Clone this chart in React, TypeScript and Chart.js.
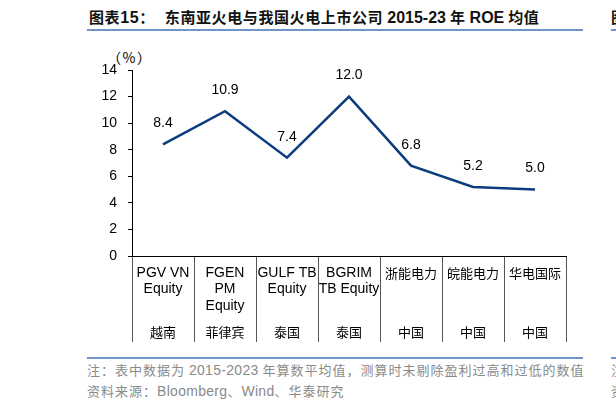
import React, { useEffect, useRef } from 'react';
import { Chart, registerables } from 'chart.js';

Chart.register(...registerables);

const companies: string[][] = [
  ['PGV VN', 'Equity'],
  ['FGEN', 'PM', 'Equity'],
  ['GULF TB', 'Equity'],
  ['BGRIM', 'TB Equity'],
  ['浙能电力'],
  ['皖能电力'],
  ['华电国际'],
];
const countries = ['越南', '菲律宾', '泰国', '泰国', '中国', '中国', '中国'];
const roe = [8.4, 10.9, 7.4, 12.0, 6.8, 5.2, 5.0];

const LATIN = '"Liberation Sans", Arial, sans-serif';
const CJK = '"Noto Sans CJK SC", "Liberation Sans", sans-serif';
const isCjk = (s: string) => /[\u4e00-\u9fff]/.test(s);

// value labels above each point
const pointLabels = {
  id: 'pointLabels',
  afterDatasetsDraw(chart: Chart) {
    const ctx = chart.ctx;
    const meta = chart.getDatasetMeta(0);
    ctx.save();
    ctx.font = `14px ${LATIN}`;
    ctx.fillStyle = '#000';
    ctx.textAlign = 'center';
    ctx.textBaseline = 'middle';
    meta.data.forEach((pt, i) => {
      ctx.fillText(roe[i].toFixed(1), pt.x, pt.y - 21);
    });
    ctx.restore();
  },
};

// company names and countries inside the table under the axis
const tableLabels = {
  id: 'tableLabels',
  afterDraw(chart: Chart) {
    const ctx = chart.ctx;
    const x = chart.scales.x;
    ctx.save();
    ctx.fillStyle = '#000';
    ctx.textAlign = 'center';
    ctx.textBaseline = 'middle';
    companies.forEach((lines, i) => {
      const cx = x.getPixelForValue(i);
      lines.forEach((line, j) => {
        ctx.font = isCjk(line) ? `13px ${CJK}` : `14px ${LATIN}`;
        ctx.fillText(line, cx, x.top + 17 + j * 16.5);
      });
      ctx.font = `13px ${CJK}`;
      ctx.fillText(countries[i], cx, x.top + 76);
    });
    ctx.restore();
  },
};

const App: React.FC = () => {
  const chartRef = useRef<HTMLCanvasElement>(null);
  const chartInstance = useRef<Chart | null>(null);

  useEffect(() => {
    if (!chartRef.current) return;
    if (chartInstance.current) chartInstance.current.destroy();

    chartInstance.current = new Chart(chartRef.current, {
      type: 'line',
      data: {
        labels: companies.map(c => c.join(' ')),
        datasets: [{
          data: roe,
          borderColor: '#0b3d7e',
          borderWidth: 2.5,
          pointRadius: 0,
          tension: 0,
          fill: false,
        }],
      },
      options: {
        responsive: false,
        animation: false,
        layout: { padding: { left: 92, right: 50, top: 30, bottom: 8 } },
        plugins: {
          legend: { display: false },
          tooltip: { enabled: false },
        },
        scales: {
          x: {
            offset: true,
            grid: {
              offset: true,
              drawOnChartArea: false,
              tickLength: 86,
              color: '#555',
            },
            border: { color: '#000', width: 1 },
            ticks: { display: false },
            afterFit: (scale: any) => { scale.height = 86; },
          },
          y: {
            min: 0,
            max: 14,
            ticks: {
              stepSize: 2,
              color: '#000',
              padding: 11,
              font: { family: LATIN, size: 14 },
            },
            grid: { drawOnChartArea: false, tickLength: 4, color: '#000' },
            border: { color: '#000', width: 1 },
            afterFit: (scale: any) => { scale.width = 40; },
          },
        },
      },
      plugins: [pointLabels, tableLabels],
    });

    return () => {
      if (chartInstance.current) {
        chartInstance.current.destroy();
        chartInstance.current = null;
      }
    };
  }, []);

  const abs = (s: React.CSSProperties): React.CSSProperties => ({ position: 'absolute', ...s });
  const latinNote: React.CSSProperties = { fontFamily: LATIN, fontSize: 14, letterSpacing: 0.3 };

  return (
    <div style={{ position: 'absolute', left: 0, top: 0, width: 616, height: 408, overflow: 'hidden', background: '#fff' }}>
      <div style={abs({ left: 89, top: 8, fontFamily: CJK, fontWeight: 'bold', fontSize: 15, lineHeight: '18px', color: '#111', whiteSpace: 'nowrap', letterSpacing: 0.6 })}>
        图表<span style={{ fontFamily: LATIN, fontSize: 16 }}>15</span>：
        <span style={{ marginLeft: 10 }}>东南亚火电与我国火电上市公司 </span>
        <span style={{ fontFamily: LATIN, fontSize: 16, letterSpacing: 0 }}>2015-23</span> 年 <span style={{ fontFamily: LATIN, fontSize: 16, letterSpacing: 0 }}>ROE</span> 均值
      </div>
      <div style={abs({ left: 87, top: 29, width: 496, height: 2, background: '#6f95c7' })} />
      <div style={abs({ left: 611, top: 8, fontFamily: CJK, fontWeight: 'bold', fontSize: 15, lineHeight: '18px', color: '#111' })}>图</div>
      <div style={abs({ left: 611, top: 29, width: 10, height: 2, background: '#6f95c7' })} />

      <div style={abs({ left: 107, top: 48, fontFamily: CJK, fontSize: 14, lineHeight: '18px', color: '#000', letterSpacing: 1.5 })}>（%）</div>

      <canvas ref={chartRef} width={616} height={310} style={abs({ left: 0, top: 40 })} />

      <div style={abs({ left: 87, top: 357, width: 496, height: 2, background: '#6f95c7' })} />
      <div style={abs({ left: 611, top: 357, width: 10, height: 2, background: '#6f95c7' })} />
      <div style={abs({ left: 87, top: 361, fontFamily: CJK, fontSize: 13, lineHeight: '18px', color: '#8a8a8a', whiteSpace: 'nowrap', letterSpacing: 1 })}>
        注：表中数据为 <span style={latinNote}>2015-2023</span> 年算数平均值，测算时未剔除盈利过高和过低的数值
      </div>
      <div style={abs({ left: 87, top: 382, fontFamily: CJK, fontSize: 13, lineHeight: '18px', color: '#8a8a8a', whiteSpace: 'nowrap', letterSpacing: 1 })}>
        资料来源：<span style={latinNote}>Bloomberg</span>、<span style={latinNote}>Wind</span>、华泰研究
      </div>
      <div style={abs({ left: 611, top: 361, fontFamily: CJK, fontSize: 13, lineHeight: '18px', color: '#8a8a8a' })}>注</div>
      <div style={abs({ left: 611, top: 382, fontFamily: CJK, fontSize: 13, lineHeight: '18px', color: '#8a8a8a' })}>资</div>
    </div>
  );
};

export default App;
